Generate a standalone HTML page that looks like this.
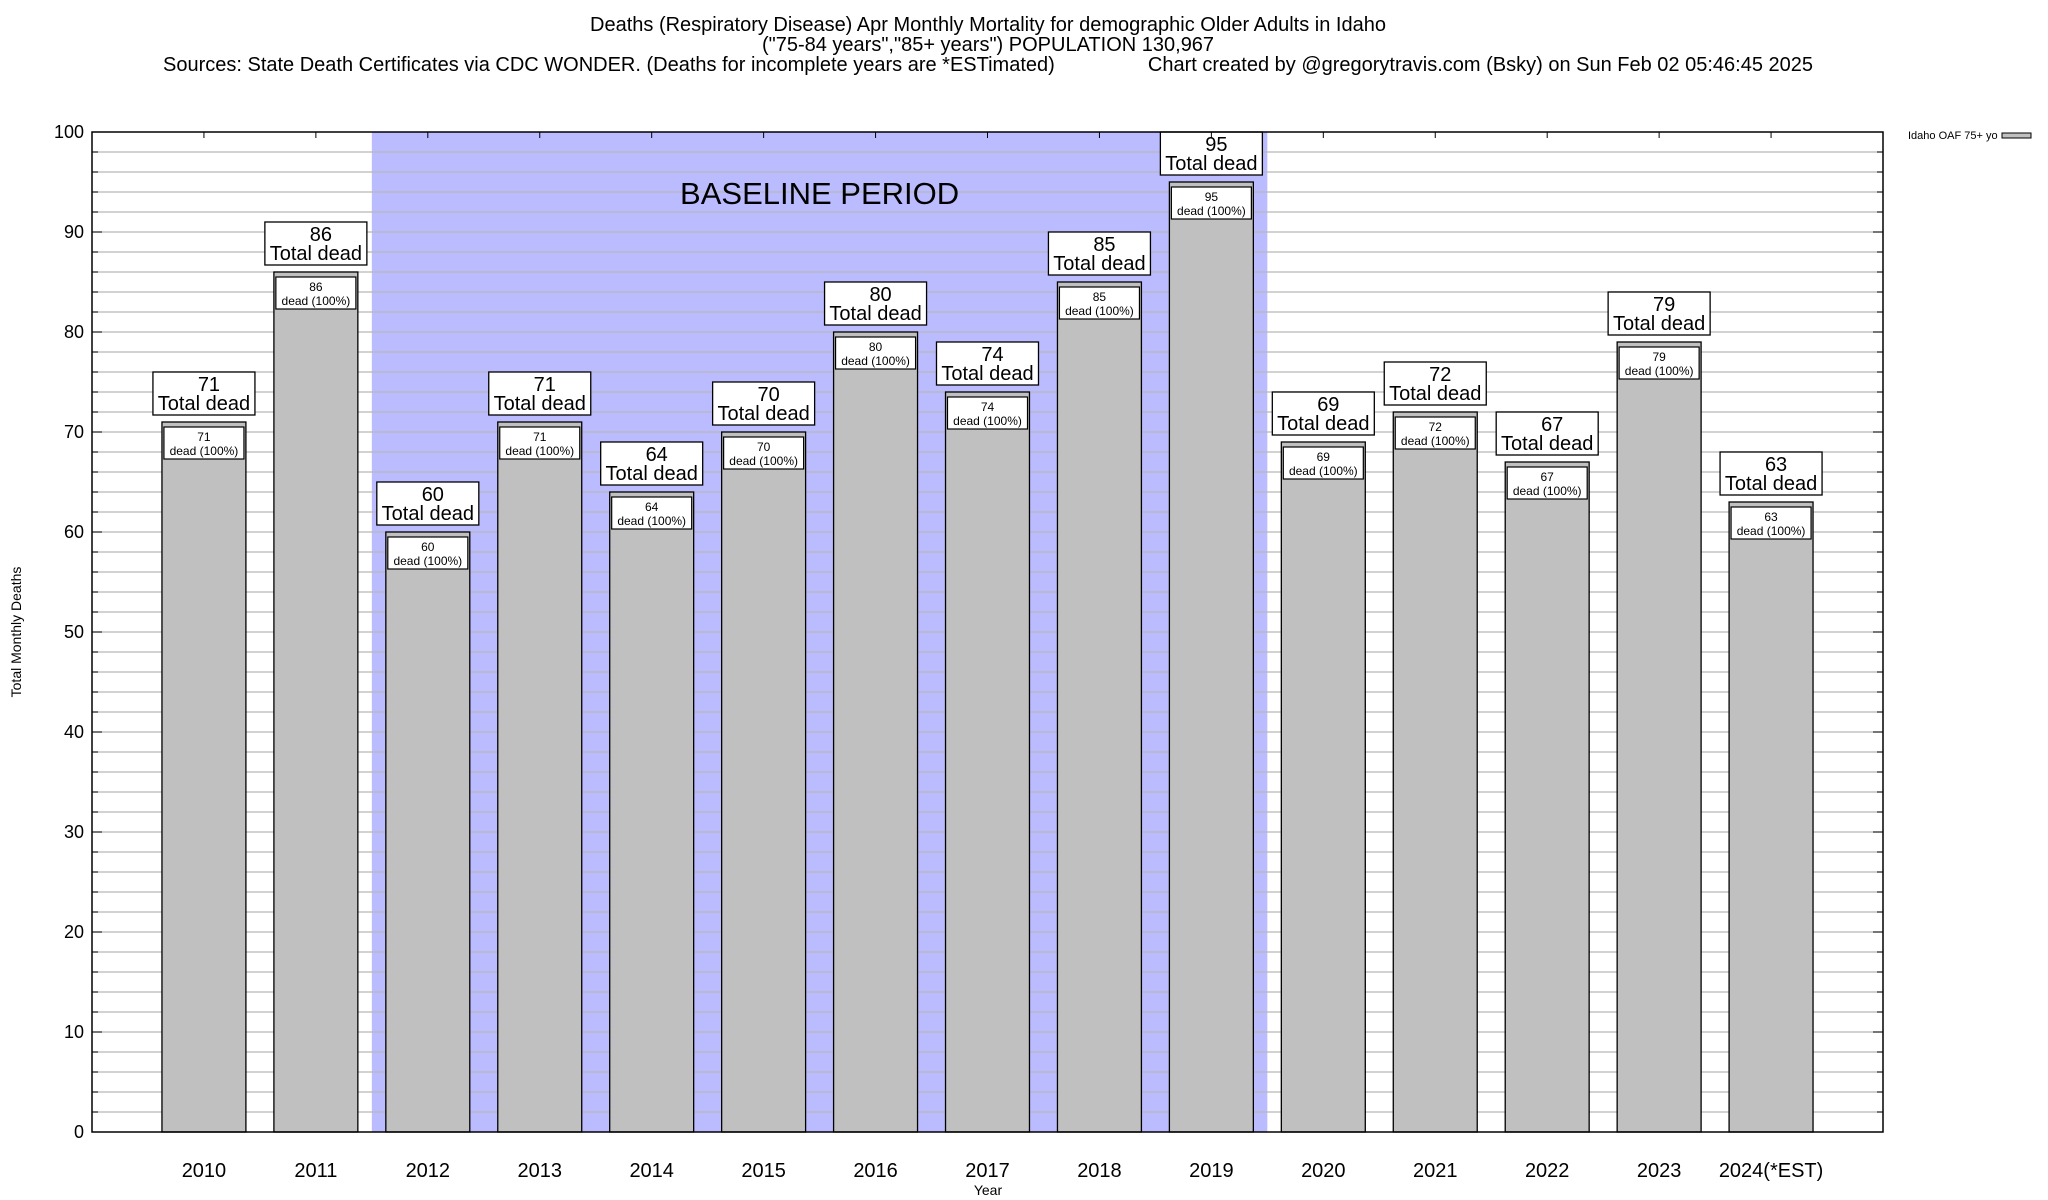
<!DOCTYPE html>
<html><head><meta charset="utf-8"><style>
html,body{margin:0;padding:0;background:#fff;}
svg{display:block;font-family:"Liberation Sans",sans-serif;}
</style></head><body>
<svg id="chart" width="2048" height="1200" viewBox="0 0 2048 1200" xmlns="http://www.w3.org/2000/svg">
<g font-size="20" fill="#000">
<text x="988" y="31" text-anchor="middle">Deaths (Respiratory Disease) Apr Monthly Mortality for demographic Older Adults in Idaho</text>
<text x="988" y="51" text-anchor="middle">("75-84 years","85+ years") POPULATION 130,967</text>
<text x="163" y="71">Sources: State Death Certificates via CDC WONDER. (Deaths for incomplete years are *ESTimated)</text>
<text x="1813" y="71" text-anchor="end">Chart created by @gregorytravis.com (Bsky) on Sun Feb 02 05:46:45 2025</text>
</g>
<g id="plot"></g>
</svg>
<script>
const categories=["2010","2011","2012","2013","2014","2015","2016","2017","2018","2019","2020","2021","2022","2023","2024(*EST)"];
const values=[71,86,60,71,64,70,80,74,85,95,69,72,67,79,63];
const yTicks=[0,10,20,30,40,50,60,70,80,90,100];
const baselineRange=[1.5,9.5];

const L=92,R=1883,T=132,B=1132;
const xmin=-1,xmax=15,ymin=0,ymax=100;
const X=i=>L+(i-xmin)/(xmax-xmin)*(R-L);
const Y=v=>B-(v-ymin)/(ymax-ymin)*(B-T);
const NS="http://www.w3.org/2000/svg";
const g=document.getElementById('plot');
function mk(tag,attrs,parent){const e=document.createElementNS(NS,tag);for(const k in attrs)e.setAttribute(k,attrs[k]);(parent||g).appendChild(e);return e;}

let sh=mk('rect',{x:X(baselineRange[0]),y:T,width:X(baselineRange[1])-X(baselineRange[0]),height:B-T,fill:'#bbbbff'});


for(let v=2;v<100;v+=2){
  const ln=mk('line',{x1:L,x2:R,y1:Y(v),y2:Y(v),stroke:'#b8b8b8','stroke-width':1.3});
  
  
  const t1=mk('line',{x1:L,x2:L+(v%10?6:10),y1:Y(v),y2:Y(v),stroke:'#000','stroke-width':1});
  
  
  const t2=mk('line',{x1:R,x2:R-(v%10?6:10),y1:Y(v),y2:Y(v),stroke:'#000','stroke-width':1});
  
  
}
let bt=mk('text',{x:(X(baselineRange[0])+X(baselineRange[1]))/2,y:204,'text-anchor':'middle','font-size':31});
bt.textContent='BASELINE PERIOD';


yTicks.forEach(v=>{
  const t=mk('text',{x:84,y:Y(v)+6,'text-anchor':'end','font-size':18});
  t.textContent=v;
  
  
});
const bw=0.75*(X(1)-X(0));
categories.forEach((c,i)=>{
  const cx=X(i),v=values[i];
  const b=mk('rect',{x:cx-bw/2,y:Y(v),width:bw,height:B-Y(v),fill:'#c0c0c0',stroke:'#000','stroke-width':1.3});
  
  
  const ib=mk('rect',{x:cx-40,y:Y(v)+5,width:80,height:32,fill:'#fff',stroke:'#000','stroke-width':1.2});
  
  
  const it1=mk('text',{x:cx,y:Y(v)+19,'text-anchor':'middle','font-size':12});
  it1.textContent=v;
  
  
  const it2=mk('text',{x:cx,y:Y(v)+33,'text-anchor':'middle','font-size':12});
  it2.textContent='dead (100%)';
  
  
  const ob=mk('rect',{x:cx-51,y:Y(v)-50,width:102,height:43,fill:'#fff',stroke:'#000','stroke-width':1.3});
  
  
  const ot1=mk('text',{x:cx+5,y:Y(v)-31,'text-anchor':'middle','font-size':20});
  ot1.textContent=v;
  
  
  const ot2=mk('text',{x:cx,y:Y(v)-12,'text-anchor':'middle','font-size':20});
  ot2.textContent='Total dead';
  
  
  const tt=mk('line',{x1:cx,x2:cx,y1:T,y2:T+6,stroke:'#000','stroke-width':1});
  
  
  const xl=mk('text',{x:cx,y:1177,'text-anchor':'middle','font-size':20});
  xl.textContent=c;
  
  
});
const fr=mk('rect',{x:L,y:T,width:R-L,height:B-T,fill:'none',stroke:'#000','stroke-width':1.5});


const xt=mk('text',{x:988,y:1195,'text-anchor':'middle','font-size':14});
xt.textContent='Year';


const yt=mk('text',{x:0,y:0,'text-anchor':'middle','font-size':14,transform:'translate(21,632) rotate(-90)'});
yt.textContent='Total Monthly Deaths';


const lt=mk('text',{x:1908,y:139,'font-size':11});
lt.textContent='Idaho OAF 75+ yo';


const ls=mk('rect',{x:2002,y:133,width:29,height:5,fill:'#c0c0c0',stroke:'#000','stroke-width':1});


</script>
</body></html>
